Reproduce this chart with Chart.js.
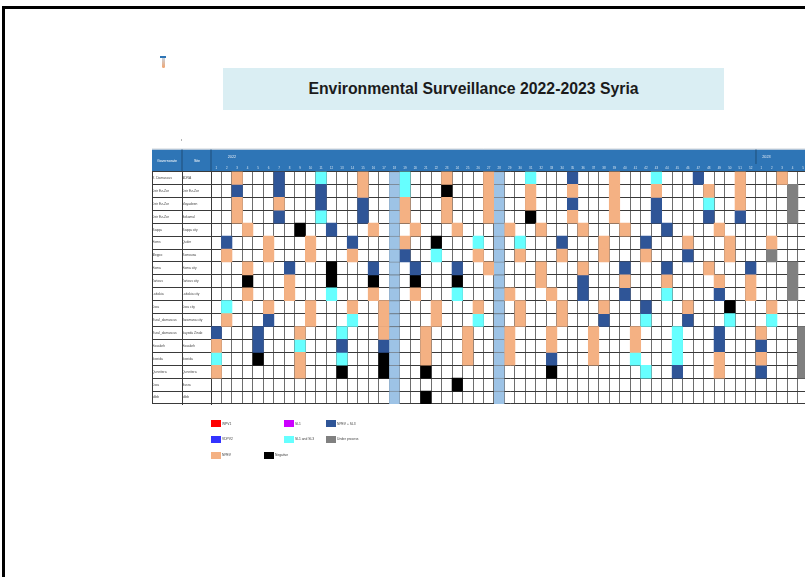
<!DOCTYPE html>
<html>
<head>
<meta charset="utf-8">
<title>Environmental Surveillance 2022-2023 Syria</title>
<script src="https://cdn.jsdelivr.net/npm/chart.js@4.4.1/dist/chart.umd.min.js"></script>
<style>
  html, body { margin: 0; padding: 0; width: 805px; height: 577px; overflow: hidden; background: #fff; }
  body { position: relative; font-family: "Liberation Sans", Arial, sans-serif; }
  #grid { position: absolute; left: 0; top: 0; }
  #frame { position: absolute; left: 2px; top: 6px; width: 900px; height: 700px; border: 3px solid #000; box-sizing: border-box; }
  #title { position: absolute; left: 223px; top: 68px; width: 501px; height: 42px; background: #DAEEF3;
           font-weight: bold; font-size: 15.8px; line-height: 42px; text-align: center; color: #1b1b1b; }
  .cap { position: absolute; left: 160px; top: 56px; width: 6px; height: 1.6px; background: #2E75B6; }
  .tube { position: absolute; left: 161.5px; top: 57.6px; width: 3px; height: 10.5px;
          background: linear-gradient(#c9d2dc, #f2a46e); border-radius: 0 0 2px 2px; }
  .speck { position: absolute; left: 181px; top: 139px; width: 1px; height: 2px; background: #b5b5b5; }
  .tiny { position: absolute; white-space: nowrap; font-size: 10px; line-height: 10px; transform-origin: 0 50%; }
  .hdr { color: #fff; transform: scale(0.36); transform-origin: 50% 50%; text-align: center; }
  .swatch { position: absolute; width: 10px; height: 7.3px; }
  .lab { color: #404040; transform: scale(0.33); }
</style>
</head>
<body>
<canvas id="grid" width="815" height="577"></canvas>
<div id="frame"></div>
<div id="title">Environmental Surveillance 2022-2023 Syria</div>
<div class="cap"></div><div class="tube"></div><div class="speck"></div>
<div id="overlay"></div>
<script>
// weeks: 1-52 = 2022, 53-57 = 2023 weeks 1-5
var weeks2022 = 52;
var weeks2023 = 5;
var years = ['2022', '2023'];
var weekLabels = [];
for (var i = 1; i <= weeks2022; i++) weekLabels.push(String(i));
for (var j = 1; j <= weeks2023; j++) weekLabels.push(String(j));

var governorates = ['R. Damascus', 'Deir Ez-Zor', 'Deir Ez-Zor', 'Deir Ez-Zor', 'Raqqa', 'Homs', 'Aleppo',
  'Hama', 'Tartous', 'Lattakia', 'Dara', 'Rural_damascus', 'Rural_damascus', 'Hasakeh', 'Sweida',
  'Quneitera', 'Dara', 'Idleb'];
var sites = ['ADRA', 'Deir Ez-Zor', 'Mayadeen', 'Bokamal', 'Raqqa city', 'Quder', 'Ramousa', 'Hama city',
  'Tartous city', 'Lattakia city', 'Dara city', 'Jaramana city', 'Sayeda Zinab', 'Hasakeh', 'Sweida',
  'Quneitera', 'Busra', 'Idleb'];

// result per site: site name followed by the weeks with that result
var npev = [
  ['ADRA', 3, 15, 23, 27, 39, 51, 55],
  ['Deir Ez-Zor', 15, 27, 31, 35, 39, 43, 48, 51],
  ['Mayadeen', 3, 7, 19, 23, 27, 31, 39, 51],
  ['Bokamal', 3, 19, 23, 27, 35, 39],
  ['Raqqa city', 4, 16, 20, 24, 29, 32, 36, 40, 49],
  ['Quder', 6, 10, 19, 38, 46, 50, 54],
  ['Ramousa', 2, 6, 10, 14, 26, 30, 34, 38, 42, 50],
  ['Hama city', 4, 27, 32, 36, 48],
  ['Tartous city', 8, 32, 40, 44, 49, 52],
  ['Lattakia city', 4, 8, 16, 20, 29, 33, 52],
  ['Dara city', 6, 10, 14, 17, 22, 26, 30, 34, 38, 46, 54],
  ['Jaramana city', 2, 10, 17, 22, 30, 34],
  ['Sayeda Zinab', 9, 17, 21, 25, 29, 33, 37, 41, 53],
  ['Hasakeh', 1, 21, 25, 29, 33, 37, 41],
  ['Sweida', 9, 21, 25, 29, 37, 49, 53],
  ['Quneitera', 1, 9, 49]
];
var npevSl3 = [
  ['ADRA', 7, 35, 47],
  ['Deir Ez-Zor', 3, 7, 11],
  ['Mayadeen', 11, 15, 35, 43],
  ['Bokamal', 7, 15, 43, 48, 51],
  ['Raqqa city', 12, 44],
  ['Quder', 2, 14, 34, 42],
  ['Ramousa', 19, 46],
  ['Hama city', 8, 16, 20, 24, 40, 44, 52],
  ['Tartous city', 36],
  ['Lattakia city', 36, 40, 49],
  ['Dara city', 42],
  ['Jaramana city', 6, 38, 46],
  ['Sayeda Zinab', 1, 5, 49],
  ['Hasakeh', 5, 13, 17, 49, 53],
  ['Sweida', 33],
  ['Quneitera', 45, 53]
];
var sl1Sl3 = [
  ['ADRA', 11, 19, 31, 43],
  ['Deir Ez-Zor', 19],
  ['Mayadeen', 48],
  ['Bokamal', 11],
  ['Quder', 26, 30],
  ['Ramousa', 22],
  ['Lattakia city', 12, 24, 44],
  ['Dara city', 2],
  ['Jaramana city', 14, 26, 42, 50, 54],
  ['Sayeda Zinab', 13, 45],
  ['Hasakeh', 9, 45],
  ['Sweida', 1, 13, 41, 45],
  ['Quneitera', 42]
];
var negative = [
  ['Deir Ez-Zor', 23],
  ['Bokamal', 31],
  ['Raqqa city', 9],
  ['Quder', 22],
  ['Hama city', 12],
  ['Tartous city', 4, 12, 16, 20, 24],
  ['Dara city', 50],
  ['Sweida', 5, 17],
  ['Quneitera', 13, 17, 21, 33],
  ['Busra', 24],
  ['Idleb', 21]
];
var underProcess = [
  ['Deir Ez-Zor', 56], ['Mayadeen', 56], ['Bokamal', 56], ['Ramousa', 54],
  ['Hama city', 56], ['Tartous city', 56], ['Lattakia city', 56],
  ['Sayeda Zinab', 57], ['Hasakeh', 57], ['Sweida', 57], ['Quneitera', 57]
];
var noSampleWeeks = [18, 28];

var legendLabels = ['WPV1', 'VDPV2', 'NPEV', 'SL1', 'SL1 and SL3', 'Negative', 'NPEV + SL3', 'Under process'];

// styles
var legendColors = ['#FF0000', '#3333FF', '#F4B183', '#CC00FF', '#66FFFF', '#000000', '#2F5597', '#808080'];
var legendSpots = [[211, 420], [211, 435.5], [211, 451.5], [284, 420], [284, 435.5], [263.5, 451.5], [326, 420], [326, 435.5]];
var yearLabelAt = [2, weeks2022 + 1];
var lineDark = '#3a3a3a';

var totalWeeks = weeks2022 + weeks2023;

function toCells(rows) {
  var out = [];
  rows.forEach(function(r) {
    for (var k = 1; k < r.length; k++) out.push({ x: [r[k] - 1, r[k]], y: r[0] });
  });
  return out;
}
var gapCells = [];
sites.forEach(function(s) {
  noSampleWeeks.forEach(function(w) { gapCells.push({ x: [w - 1, w], y: s }); });
});

function cellSet(label, data, color, extra) {
  var ds = { label: label, data: data, backgroundColor: color, xAxisID: 'x', yAxisID: 'site',
             grouped: false, barPercentage: 1, categoryPercentage: 1, borderSkipped: false, borderWidth: 0 };
  return Object.assign(ds, extra || {});
}

var tableChrome = {
  id: 'tableChrome',
  beforeDraw: function(chart) {
    var ctx = chart.ctx, area = chart.chartArea, s = chart.scales;
    var top = s.year.top;
    ctx.save();
    ctx.fillStyle = '#2E75B6';
    ctx.fillRect(s.gov.left, top, chart.width - s.gov.left, area.top - top);
    ctx.lineWidth = 1;
    ctx.strokeStyle = '#cdd2d9';
    ctx.beginPath(); ctx.moveTo(s.gov.left, top - 0.5); ctx.lineTo(chart.width, top - 0.5); ctx.stroke();
    ctx.strokeStyle = '#1F4E79';
    ctx.beginPath();
    ctx.moveTo(s.site.left, top); ctx.lineTo(s.site.left, area.top);
    ctx.moveTo(area.left, top); ctx.lineTo(area.left, area.top);
    var brk = s.x.getPixelForValue(weeks2022);
    ctx.moveTo(brk, top); ctx.lineTo(brk, s.week.top);
    ctx.stroke();
    ctx.restore();
  },
  afterDraw: function(chart) {
    var ctx = chart.ctx, area = chart.chartArea, s = chart.scales;
    ctx.save();
    ctx.strokeStyle = lineDark;
    ctx.lineWidth = 1;
    ctx.beginPath();
    ctx.moveTo(s.gov.left + 0.5, area.top); ctx.lineTo(s.gov.left + 0.5, area.bottom);
    ctx.stroke();
    ctx.restore();
  }
};

Chart.defaults.font.family = '"Liberation Sans", Arial, sans-serif';

var ctx = document.getElementById('grid').getContext('2d');
var chart = new Chart(ctx, {
  type: 'bar',
  data: {
    datasets: [
      cellSet('no sample', gapCells, '#9DC3E6', { borderColor: '#7d8c9b', borderWidth: { top: 1, right: 0, bottom: 0, left: 0 } }),
      cellSet(legendLabels[2], toCells(npev), legendColors[2]),
      cellSet(legendLabels[6], toCells(npevSl3), legendColors[6]),
      cellSet(legendLabels[4], toCells(sl1Sl3), legendColors[4]),
      cellSet(legendLabels[5], toCells(negative), legendColors[5]),
      cellSet(legendLabels[7], toCells(underProcess), legendColors[7])
    ]
  },
  options: {
    indexAxis: 'y',
    responsive: false,
    animation: false,
    events: [],
    layout: { padding: { left: 152, top: 149.5, right: 6.6, bottom: 173 } },
    plugins: { legend: { display: false }, tooltip: { enabled: false } },
    scales: {
      x: {
        type: 'linear', position: 'bottom', min: 0, max: totalWeeks, z: 1,
        ticks: { display: false, stepSize: 1 },
        grid: { color: '#6e6e6e', lineWidth: 1, drawTicks: false },
        border: { display: false },
        afterFit: function(sc) { sc.height = 0; }
      },
      week: {
        type: 'category', axis: 'x', position: 'top', labels: weekLabels, offset: true, weight: 0,
        grid: { display: false, drawTicks: false }, border: { display: false },
        ticks: { color: 'rgba(255,255,255,0.8)', font: { size: 3 }, padding: 2, autoSkip: false, maxRotation: 0 },
        afterFit: function(sc) { sc.height = 7.5; }
      },
      year: {
        type: 'linear', axis: 'x', position: 'top', min: 0, max: totalWeeks, weight: 1,
        afterBuildTicks: function(sc) { sc.ticks = yearLabelAt.map(function(v) { return { value: v }; }); },
        grid: { display: false, drawTicks: false }, border: { display: false },
        ticks: { callback: function(v, idx) { return years[idx]; }, color: '#e6edf7', font: { size: 3.8 },
                 padding: 5, autoSkip: false, maxRotation: 0 },
        afterFit: function(sc) { sc.height = 14.5; }
      },
      site: {
        type: 'category', axis: 'y', position: 'left', labels: sites, offset: true, weight: 0,
        grid: { offset: true, color: lineDark, lineWidth: 1, tickLength: 29 },
        border: { color: lineDark },
        ticks: { crossAlign: 'far', color: '#454545', font: { size: 3.3 }, autoSkip: false, padding: 0 },
        afterFit: function(sc) { sc.width = 29; }
      },
      gov: {
        type: 'category', axis: 'y', position: 'left', labels: governorates, offset: true, weight: 1,
        grid: { offset: true, drawOnChartArea: false, color: lineDark, lineWidth: 1, tickLength: 30 },
        border: { color: lineDark },
        ticks: { crossAlign: 'far', color: '#454545', font: { size: 3.3 }, autoSkip: false, padding: 0 },
        afterFit: function(sc) { sc.width = 30; }
      }
    }
  },
  plugins: [tableChrome]
});

// header captions and legend as page text
var overlay = document.getElementById('overlay');
var area = chart.chartArea;
var sc = chart.scales;
function addText(cls, text, left, top, width) {
  var d = document.createElement('div');
  d.className = 'tiny ' + cls;
  d.textContent = text;
  d.style.left = left + 'px';
  d.style.top = top + 'px';
  if (width) d.style.width = width + 'px';
  overlay.appendChild(d);
  return d;
}
var headMid = (sc.year.top + area.top) / 2 - 5;
addText('hdr', 'Governorate', sc.gov.left - 35, headMid, 100);
addText('hdr', 'Site', sc.site.left - 35.5, headMid, 100);

legendLabels.forEach(function(label, k) {
  var sw = document.createElement('div');
  sw.className = 'swatch';
  sw.style.left = legendSpots[k][0] + 'px';
  sw.style.top = legendSpots[k][1] + 'px';
  sw.style.background = legendColors[k];
  overlay.appendChild(sw);
  addText('lab', label, legendSpots[k][0] + 11, legendSpots[k][1] - 1.35);
});
</script>
</body>
</html>
